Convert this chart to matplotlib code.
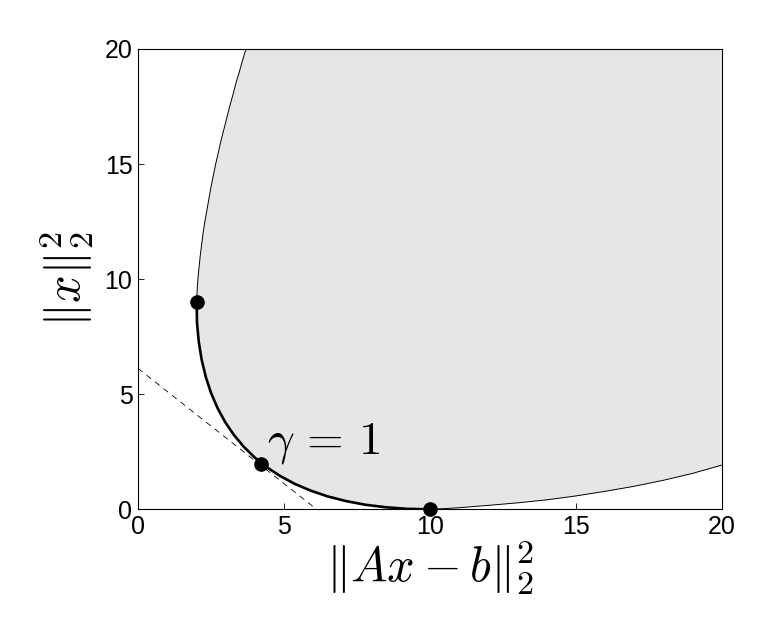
import matplotlib
matplotlib.use("Agg")
import matplotlib.pyplot as plt

plt.rcParams['mathtext.fontset'] = 'cm'
plt.rcParams['font.family'] = ['Liberation Sans', 'DejaVu Sans']

# upper edge of the achievable set
upper_x = [3.70, 3.58, 3.47, 3.35, 3.25, 3.14, 3.04, 2.94, 2.84, 2.75, 2.66,
           2.58, 2.50, 2.43, 2.36, 2.29, 2.23, 2.18, 2.13, 2.09, 2.05, 2.025, 2.01]
upper_y = [20.0, 19.5, 19.0, 18.5, 18.0, 17.5, 17.0, 16.5, 16.0, 15.5, 15.0,
           14.5, 14.0, 13.5, 13.0, 12.5, 12.0, 11.5, 11.0, 10.5, 10.0, 9.5, 9.0]

# optimal trade-off curve
pareto_x = [2.01, 2.02, 2.08, 2.18, 2.32, 2.50, 2.72, 2.98, 3.28, 3.62, 4.00,
            4.42, 4.88, 5.38, 5.92, 6.50, 7.12, 7.78, 8.48, 9.22, 10.0]
pareto_y = [9.0, 8.12, 7.29, 6.50, 5.76, 5.06, 4.41, 3.80, 3.24, 2.72, 2.25,
            1.82, 1.44, 1.10, 0.81, 0.56, 0.36, 0.20, 0.09, 0.02, 0.0]

# lower edge of the achievable set
lower_x = [10.0, 10.5, 11.0, 12.0, 13.0, 14.0, 15.0, 16.0, 17.0, 18.0, 19.0, 20.0]
lower_y = [0.0, 0.03, 0.07, 0.17, 0.28, 0.41, 0.58, 0.78, 1.00, 1.26, 1.56, 1.92]

# marked points and the tangent line for gamma = 1
dots_x = [2.01, 4.21, 10.0]
dots_y = [9.0, 1.97, 0.0]
tangent_x = [0.0, 6.12]
tangent_y = [6.12, 0.0]

xmax, ymax = 20, 20
ticks = [0, 5, 10, 15, 20]

fig = plt.figure(figsize=(7.72, 6.28), dpi=100)
ax = fig.add_axes([0.1788, 0.189, 0.756, 0.733])

bx = upper_x + pareto_x[1:] + lower_x[1:] + [xmax]
by = upper_y + pareto_y[1:] + lower_y[1:] + [ymax]
ax.fill(bx, by, color='0.9', lw=0)

ax.plot(upper_x, upper_y, color='k', lw=0.7)
ax.plot(lower_x, lower_y, color='k', lw=0.7)
ax.plot(pareto_x, pareto_y, color='k', lw=1.9, solid_capstyle='round')
ax.plot(tangent_x, tangent_y, color='k', lw=0.6, linestyle=(0, (7, 6)))
ax.plot(dots_x, dots_y, 'ko', ms=9.5, clip_on=False, zorder=5)

ax.text(4.42, 2.43, r'$\gamma\,=\,1$', fontsize=34, va='baseline', ha='left')

ax.set_xlim(0, xmax)
ax.set_ylim(0, ymax)
ax.set_xticks(ticks)
ax.set_yticks(ticks)
ax.tick_params(direction='in', length=4.5, width=0.6, labelsize=18, pad=4)
for s in ax.spines.values():
    s.set_linewidth(0.8)

ax.set_xlabel(r'$\|Ax-b\|_2^2$', fontsize=35, labelpad=0)
ax.set_ylabel(r'$\|x\|_2^2$', fontsize=35, labelpad=6)

fig.savefig('out.png', dpi=100)
